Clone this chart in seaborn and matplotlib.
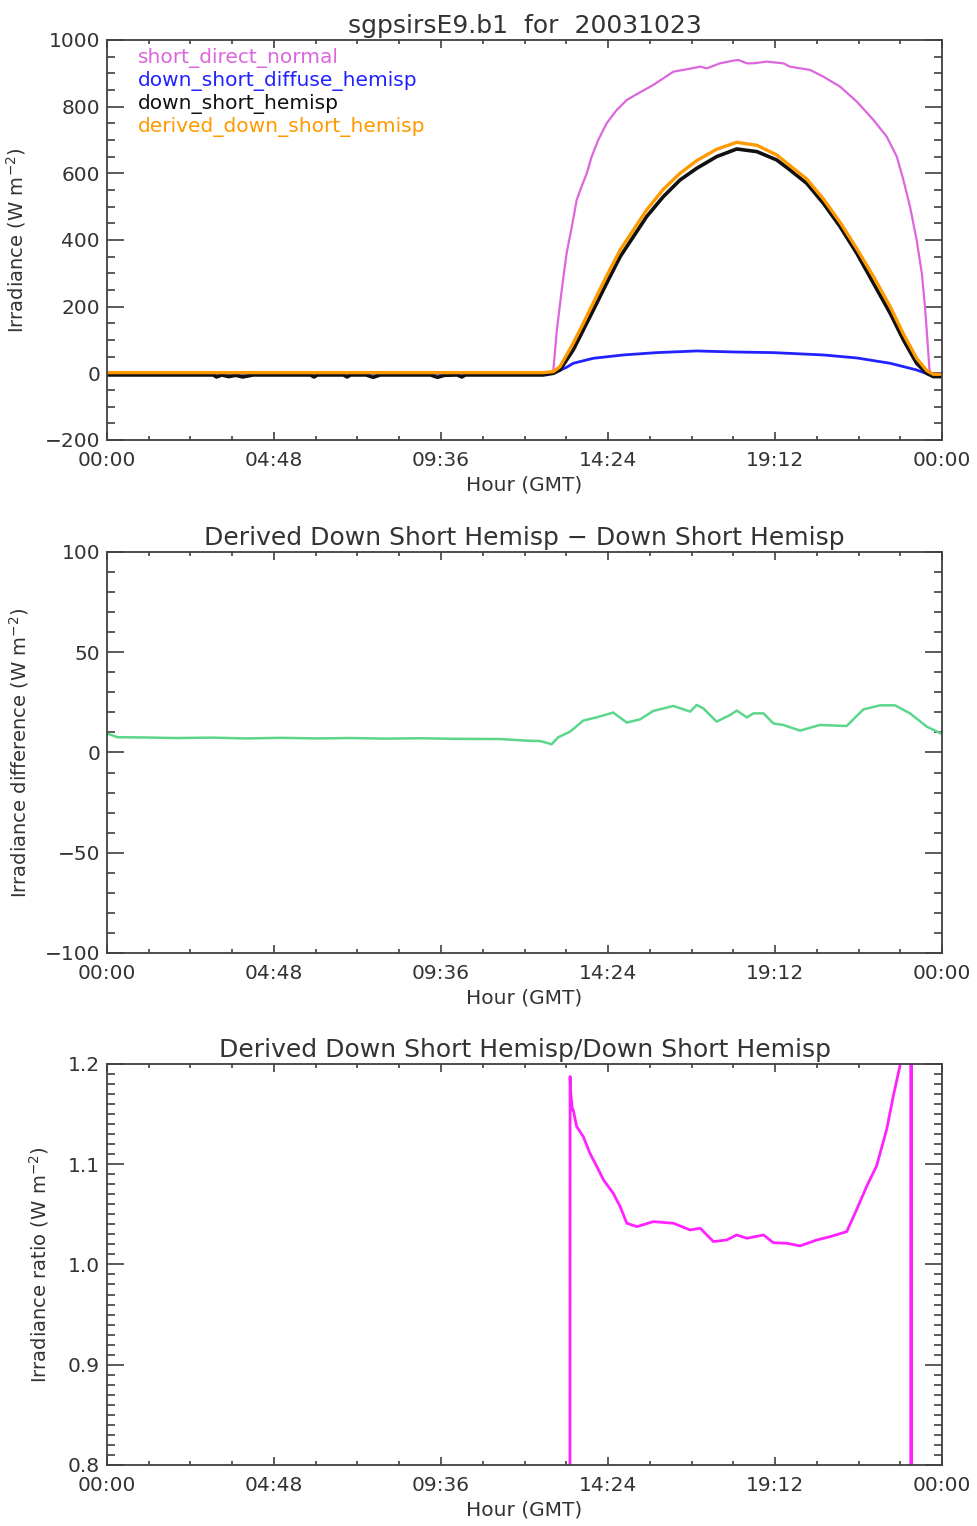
import matplotlib
matplotlib.use("Agg")
import matplotlib.pyplot as plt
import seaborn as sns
from matplotlib.ticker import MultipleLocator, FormatStrFormatter

# ---------------- data ----------------
xtick_hours = [0, 4.8, 9.6, 14.4, 19.2, 24.0]
xtick_labels = ["00:00", "04:48", "09:36", "14:24", "19:12", "00:00"]

series_names = ["short_direct_normal", "down_short_diffuse_hemisp",
                "down_short_hemisp", "derived_down_short_hemisp"]

sdn_hours = [0, 12.81, 12.83, 12.93, 13.07, 13.21, 13.36, 13.50, 13.64, 13.79,
             13.93, 14.12, 14.36, 14.65, 14.94, 15.27, 15.70, 16.28, 16.66, 17.05,
             17.24, 17.62, 18.00, 18.15, 18.39, 18.58, 18.96, 19.44, 19.63, 20.21,
             20.59, 21.07, 21.55, 22.03, 22.41, 22.70, 22.89, 23.08, 23.27, 23.42,
             23.51, 23.58, 23.64, 23.70, 24.0]
sdn_vals = [0, 0, 10, 130, 250, 360, 440, 520, 560, 600,
            650, 700, 750, 790, 820, 840, 865, 905, 912, 920,
            915, 930, 938, 940, 930, 930, 935, 930, 920, 910,
            890, 860, 815, 760, 710, 650, 580, 500, 400, 300,
            200, 100, 10, -5, -5]

dif_hours = [0, 12.83, 13.21, 13.40, 13.98, 14.84, 15.80, 16.95, 18.00, 19.15,
             20.59, 21.55, 22.51, 23.27, 23.66, 24.0]
dif_vals = [0, 0, 18, 30, 45, 55, 62, 67, 64, 62,
            55, 46, 30, 10, -5, 0]

hem_hours = [0, 3.05, 3.15, 3.30, 3.50, 3.70, 3.90, 4.20, 5.85, 5.95, 6.05,
             6.80, 6.90, 7.00, 7.45, 7.65, 7.85, 9.30, 9.50, 9.70, 10.07, 10.20,
             10.30, 12.54, 12.83, 13.02, 13.21, 13.40, 13.69, 13.98, 14.36, 14.75,
             15.13, 15.51, 15.99, 16.47, 16.95, 17.52, 18.10, 18.68, 19.25, 19.63,
             20.11, 20.59, 21.07, 21.55, 22.03, 22.51, 22.89, 23.27, 23.56, 23.75,
             24.0]
hem_vals = [-5, -5, -11, -5, -10, -6, -11, -5, -5, -11, -5,
            -5, -11, -5, -5, -12, -5, -5, -12, -6, -5, -11,
            -5, -5, 0, 10, 40, 70, 130, 190, 270, 350,
            410, 470, 530, 580, 615, 650, 673, 665, 640, 610,
            570, 510, 440, 360, 270, 180, 100, 30, 0, -10,
            -10]

der_hours = [0, 12.54, 12.83, 13.02, 13.21, 13.40, 13.69, 13.98, 14.36, 14.75,
             15.13, 15.51, 15.99, 16.47, 16.95, 17.52, 18.10, 18.68, 19.25, 19.63,
             20.11, 20.59, 21.07, 21.55, 22.03, 22.51, 22.89, 23.27, 23.56, 23.75,
             24.0]
der_vals = [2, 2, 5, 20, 55, 90, 150, 212, 292, 370,
            430, 490, 552, 600, 638, 672, 693, 684, 655, 623,
            583, 523, 453, 374, 290, 200, 118, 45, 8, -3,
            -3]

diff_hours = [0, 0.3, 1.0, 2.0, 3.0, 4.0, 5.0, 6.0, 7.0, 8.0, 9.0, 10.0, 11.3,
              12.06, 12.45, 12.78, 12.97, 13.31, 13.69, 14.07, 14.55, 14.94, 15.32,
              15.70, 16.28, 16.76, 16.95, 17.14, 17.52, 17.91, 18.10, 18.39, 18.58,
              18.87, 19.15, 19.44, 19.92, 20.49, 21.26, 21.74, 22.22, 22.65, 23.08,
              23.56, 24.0]
diff_vals = [9.5, 7.6, 7.5, 7.2, 7.4, 7.0, 7.3, 7.0, 7.2, 6.9, 7.1, 6.8, 6.7,
             5.9, 5.7, 4.1, 7.6, 10.4, 15.9, 17.5, 19.9, 14.9, 16.5,
             20.7, 23.2, 20.4, 23.7, 22.0, 15.4, 18.7, 20.9, 17.5, 19.5,
             19.5, 14.5, 13.7, 10.9, 13.7, 13.2, 21.5, 23.5, 23.5, 19.5,
             12.9, 9.2]

ratio_hours = [13.30, 13.31, 13.33, 13.375, 13.40, 13.50, 13.69, 13.88, 14.08, 14.27,
               14.55, 14.75, 14.94, 15.23, 15.70, 16.28, 16.76, 17.05, 17.43, 17.81,
               18.10, 18.39, 18.87, 19.15, 19.54, 19.92, 20.40, 20.78, 21.26, 21.55,
               21.84, 22.12, 22.41, 22.60, 22.79, 22.90, 23.00, 23.10, 23.11, 23.12, 23.13]
ratio_vals = [0.30, 1.1874, 1.1708, 1.1541, 1.1541, 1.1375, 1.1275, 1.1109, 1.0976, 1.0843,
              1.0710, 1.0577, 1.0411, 1.0377, 1.0427, 1.0411, 1.0344, 1.0361, 1.0228, 1.0244,
              1.0294, 1.0261, 1.0294, 1.0217, 1.0211, 1.0185, 1.0244, 1.0277, 1.0327, 1.0550,
              1.0783, 1.0983, 1.1348, 1.1681, 1.1980, 1.30, 1.60, 2.50, 0.30, 2.50, 0.30]

# ---------------- style ----------------
sns.set_theme(style="ticks")
plt.rcParams['font.family'] = ['DejaVu Sans']
TXT = "#333333"
plt.rcParams['text.color'] = TXT
plt.rcParams['axes.labelcolor'] = TXT

C_SDN = "#dd66dd"
C_DIF = "#2222ff"
C_HEM = "#111111"
C_DER = "#ff9900"
C_GRN = "#5cd68a"
C_MAG = "#ff22ff"

fig = plt.figure(figsize=(9.77, 15.26), dpi=100)
ax1 = fig.add_axes([0.1095, 0.7117, 0.8547, 0.2621])
ax2 = fig.add_axes([0.1095, 0.3755, 0.8547, 0.2628])
ax3 = fig.add_axes([0.1095, 0.0400, 0.8547, 0.2628])


def style_axes(ax, ymaj, ymin):
    ax.set_xlim(0, 24)
    ax.set_xticks(xtick_hours, labels=xtick_labels)
    ax.xaxis.set_minor_locator(MultipleLocator(1.2))
    ax.yaxis.set_major_locator(MultipleLocator(ymaj))
    ax.yaxis.set_minor_locator(MultipleLocator(ymin))
    ax.tick_params(axis='both', which='both', direction='in', top=True, right=True,
                   colors="#404040", labelcolor=TXT, labelsize=14.5, width=1.2)
    ax.tick_params(axis='y', which='major', length=12.5, pad=5)
    ax.tick_params(axis='y', which='minor', length=5.8)
    ax.tick_params(axis='x', which='major', length=5.8, pad=8)
    ax.tick_params(axis='x', which='minor', length=2.9)
    for s in ax.spines.values():
        s.set_color("#404040")
        s.set_linewidth(1.3)
    ax.set_xlabel("Hour (GMT)", fontsize=14.5, labelpad=4)
    ax.grid(False)


# ---- panel 1 ----
sns.lineplot(x=sdn_hours, y=sdn_vals, ax=ax1, color=C_SDN, lw=1.6, estimator=None, sort=False)
sns.lineplot(x=dif_hours, y=dif_vals, ax=ax1, color=C_DIF, lw=2.0, estimator=None, sort=False)
sns.lineplot(x=hem_hours, y=hem_vals, ax=ax1, color=C_HEM, lw=2.6, estimator=None, sort=False)
sns.lineplot(x=der_hours, y=der_vals, ax=ax1, color=C_DER, lw=2.4, estimator=None, sort=False)
ax1.set_ylim(-200, 1000)
style_axes(ax1, 200, 50)
ax1.set_ylabel("Irradiance (W m$^{-2}$)", fontsize=14, labelpad=12)
ax1.set_title("sgpsirsE9.b1  for  20031023", fontsize=18, color=TXT, pad=5)
for i, (name, col) in enumerate(zip(series_names, [C_SDN, C_DIF, C_HEM, C_DER])):
    ax1.text(0.037, 0.955 - i * 0.0575, name, color=col, fontsize=14.5,
             transform=ax1.transAxes, va='center', ha='left')

# ---- panel 2 ----
sns.lineplot(x=diff_hours, y=diff_vals, ax=ax2, color=C_GRN, lw=1.8, estimator=None, sort=False)
ax2.set_ylim(-100, 100)
style_axes(ax2, 50, 10)
ax2.set_ylabel("Irradiance difference (W m$^{-2}$)", fontsize=14, labelpad=10)
ax2.set_title("Derived Down Short Hemisp \u2212 Down Short Hemisp", fontsize=18, color=TXT, pad=5)

# ---- panel 3 ----
sns.lineplot(x=ratio_hours, y=ratio_vals, ax=ax3, color=C_MAG, lw=2.0, estimator=None, sort=False)
ax3.set_ylim(0.8, 1.2)
style_axes(ax3, 0.1, 0.01)
ax3.yaxis.set_major_formatter(FormatStrFormatter("%.1f"))
ax3.set_ylabel("Irradiance ratio (W m$^{-2}$)", fontsize=14, labelpad=12)
ax3.set_title("Derived Down Short Hemisp/Down Short Hemisp", fontsize=18, color=TXT, pad=5)

fig.savefig("out.png", dpi=100, facecolor="white")
